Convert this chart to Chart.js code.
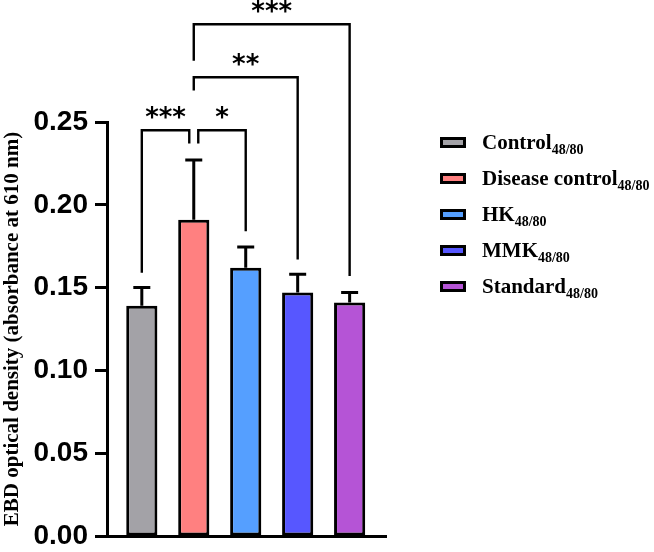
<!DOCTYPE html>
<html>
<head>
<meta charset="utf-8">
<script src="https://cdn.jsdelivr.net/npm/chart.js@4/dist/chart.umd.min.js"></script>
<style>
  html, body { margin: 0; padding: 0; background: #fff; }
  #wrap { position: relative; width: 654px; height: 552px; }
  #ebdChart { position: absolute; left: 0; top: 0; }
  #legend {
    position: absolute; left: 440px; top: 124px;
    font-family: "Liberation Serif", "Times New Roman", serif;
    font-weight: bold; font-size: 21px; color: #000;
  }
  .legend-row { display: flex; align-items: center; height: 36px; white-space: nowrap; }
  .legend-box { width: 20px; height: 5px; border: 3px solid #000; margin-right: 16px; }
  .legend-sub { font-size: 14px; position: relative; top: 5px; }
</style>
</head>
<body>
<div id="wrap">
  <canvas id="ebdChart" width="654" height="552"></canvas>
  <div id="legend"></div>
</div>
<script>
// ---- data ----
const groups = ["Control", "Disease control", "HK", "MMK", "Standard"];
const groupSub = "48/80";
const meanOD = [0.139, 0.191, 0.162, 0.147, 0.141];
const semOD = [0.011, 0.036, 0.0125, 0.011, 0.006];
const barColors = ["#A3A2A7", "#FF8080", "#559FFF", "#5757FF", "#B554D6"];
const yTicks = [0, 0.05, 0.10, 0.15, 0.20, 0.25];

// significance brackets: from bar, to bar, label, bracket height, leg ends
const bracketFrom = [0, 1, 1, 1];
const bracketTo = [1, 2, 3, 4];
const bracketText = ["***", "*", "**", "***"];
const bracketTop = [0.245, 0.245, 0.277, 0.309];
const bracketLeftEnd = [0.159, 0.237, 0.269, 0.287];
const bracketRightEnd = [0.237, 0.184, 0.167, 0.157];

// pixel nudges so the two brackets sharing the disease bar don't touch
const legNudge = [[0, -4.5], [4.5, 0], [0, 0], [0, 0]];

// Error bars (upward only) + significance brackets
const annotatePlugin = {
  id: "annotate",
  afterDatasetsDraw: (chart) => {
    const ctx = chart.ctx;
    const y = chart.scales.y;
    const bars = chart.getDatasetMeta(0).data;

    ctx.save();
    ctx.strokeStyle = "#000";
    ctx.lineCap = "butt";

    // error bars
    ctx.lineWidth = 3;
    bars.forEach((bar, i) => {
      const top = y.getPixelForValue(meanOD[i] + semOD[i]);
      ctx.beginPath();
      ctx.moveTo(bar.x, bar.y);
      ctx.lineTo(bar.x, top);
      ctx.moveTo(bar.x - 8.5, top);
      ctx.lineTo(bar.x + 8.5, top);
      ctx.stroke();
    });

    // brackets
    ctx.lineWidth = 2.4;
    ctx.fillStyle = "#000";
    ctx.font = "bold 26px 'DejaVu Sans'";
    ctx.textAlign = "center";
    ctx.textBaseline = "alphabetic";
    for (let k = 0; k < bracketFrom.length; k++) {
      const x1 = bars[bracketFrom[k]].x + legNudge[k][0];
      const x2 = bars[bracketTo[k]].x + legNudge[k][1];
      const yt = y.getPixelForValue(bracketTop[k]);
      ctx.beginPath();
      ctx.moveTo(x1, y.getPixelForValue(bracketLeftEnd[k]));
      ctx.lineTo(x1, yt);
      ctx.lineTo(x2, yt);
      ctx.lineTo(x2, y.getPixelForValue(bracketRightEnd[k]));
      ctx.stroke();
      ctx.fillText(bracketText[k], (x1 + x2) / 2, yt - 4);
    }
    ctx.restore();
  },
};

const chart = new Chart(document.getElementById("ebdChart"), {
  type: "bar",
  data: {
    datasets: [
      {
        data: meanOD.map((v, i) => ({ x: i + 1, y: v })),
        backgroundColor: barColors,
        borderColor: "#000",
        borderWidth: 3,
        borderSkipped: false,
        barPercentage: 0.6,
        categoryPercentage: 1,
      },
    ],
  },
  options: {
    responsive: false,
    animation: false,
    layout: { padding: { top: 122, right: 268, bottom: 16, left: 0 } },
    plugins: { legend: { display: false }, tooltip: { enabled: false } },
    scales: {
      x: {
        type: "linear",
        offset: false,
        min: 0.33,
        max: 5.7,
        // one (hidden) tick per bar so bar width follows the bar spacing
        afterBuildTicks: (scale) => { scale.ticks = groups.map((g, i) => ({ value: i + 1 })); },
        ticks: { display: false },
        grid: { display: false },
        border: { display: true, color: "#000", width: 3 },
        afterFit: (scale) => { scale.height = 0; },
      },
      y: {
        min: 0,
        max: 0.25,
        afterBuildTicks: (scale) => { scale.ticks = yTicks.map((v) => ({ value: v })); },
        ticks: {
          color: "#000",
          padding: 7,
          font: { family: "'Liberation Sans', Arial", weight: "bold", size: 28 },
          callback: (v) => v.toFixed(2),
        },
        grid: { drawOnChartArea: false, drawTicks: true, tickLength: 12, tickWidth: 3, tickColor: "#000" },
        border: { display: true, color: "#000", width: 3 },
        title: {
          display: true,
          text: "EBD optical density (absorbance at 610 nm)",
          color: "#000",
          font: { family: "'Liberation Serif', 'Times New Roman', serif", weight: "bold", size: 21 },
          padding: { top: 0, bottom: 0 },
        },
        afterFit: (scale) => {
          scale.width = 107;
          scale.paddingTop = 0;
          scale.paddingBottom = 0;
        },
      },
    },
  },
  plugins: [annotatePlugin],
});

// HTML legend with subscripts
const legendEl = document.getElementById("legend");
legendEl.innerHTML = groups
  .map(
    (g, i) => `<div class="legend-row">
        <div class="legend-box" style="background:${barColors[i]}"></div>
        <span>${g}<span class="legend-sub">${groupSub}</span></span>
      </div>`
  )
  .join("");
</script>
</body>
</html>
